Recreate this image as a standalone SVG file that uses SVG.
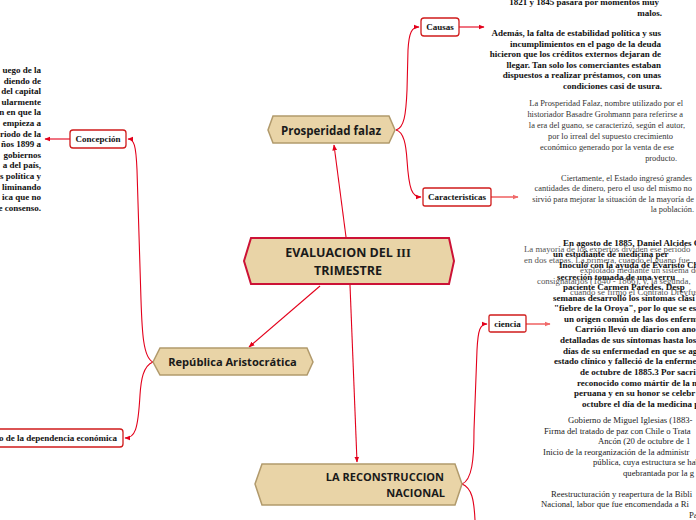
<svg xmlns="http://www.w3.org/2000/svg" width="696" height="520" viewBox="0 0 696 520">
<defs>
<marker id="ahr" viewBox="0 0 10 10" refX="9" refY="5" markerWidth="6" markerHeight="6" orient="auto" markerUnits="userSpaceOnUse">
<path d="M0,1 L10,5 L0,9 z" fill="#e3001b"/>
</marker>
<marker id="ahp" viewBox="0 0 10 10" refX="9" refY="5" markerWidth="6" markerHeight="6" orient="auto" markerUnits="userSpaceOnUse">
<path d="M0,1 L10,5 L0,9 z" fill="#f06a6a"/>
</marker>
</defs>
<style>
.hex{fill:#e9d4a7;stroke:#b19a6c;stroke-width:1.5}
.main{fill:#e9d4a7;stroke:#cc1236;stroke-width:2}
.ht{font-family:"Open Sans","Noto Sans",sans-serif;font-weight:bold;fill:#1a1a1a}
.box{fill:#fff;stroke:#d01b1b;stroke-width:1.3}
.bt{font-family:"Liberation Serif",serif;font-weight:bold;font-size:9px;fill:#111;text-anchor:middle}
.con{fill:none;stroke:#e3001b;stroke-width:1.1}
.pk{fill:none;stroke:#f06a6a;stroke-width:1.6}
.bold{font-family:"Liberation Serif",serif;font-weight:bold;font-size:9px;fill:#111}
.reg{font-family:"Liberation Serif",serif;font-size:8.4px;fill:#333}
.low{font-family:"Liberation Serif",serif;font-size:8.7px;fill:#222}
.grey{font-family:"Liberation Serif",serif;font-size:8.8px;fill:#555}
.end{text-anchor:end}
</style>

<g id="connectors">
<path class="con" d="M346,237 L334,145" marker-end="url(#ahr)"/>
<path class="con" d="M320,286 L249,347" marker-end="url(#ahr)"/>
<path class="con" d="M350,285 L357,462" marker-end="url(#ahr)"/>
<path class="con" d="M396,130 C404,128 406,115 407,90 L408,50 C409,32 412,27 419,27" marker-end="url(#ahr)"/>
<path class="con" d="M396,130 C404,132 406,145 407,160 C409,190 412,197 421,197" marker-end="url(#ahr)"/>
<path class="con" d="M153,362 C143,358 142,330 141,300 L137,170 C136,145 134,139 128,139" marker-end="url(#ahr)"/>
<path class="con" d="M153,362 C143,366 141,380 140,395 C138,430 135,438 125,438" marker-end="url(#ahr)"/>
<path class="con" d="M462,484 C472,480 474,460 474,430 L477,350 C478,330 480,324 487,324" marker-end="url(#ahr)"/>
<path class="con" d="M462,484 C472,488 474,500 475,520"/>
<path class="con" d="M459,27 L484,27" marker-end="url(#ahr)"/>
<path class="pk" d="M491,197 L518,197" marker-end="url(#ahp)"/>
<path class="con" d="M70,139 L45,139" marker-end="url(#ahr)"/>
<path class="pk" d="M526,324 L550,324" marker-end="url(#ahp)"/>
</g>

<g id="n-central">
<polygon class="main" points="244,261 251,238 449,238 454,261 449,284 251,284"/>
<text class="ht" x="348" y="257" font-size="12.5" text-anchor="middle">EVALUACION DEL <tspan font-family="Liberation Serif,serif">III</tspan></text>
<text class="ht" x="348" y="275" font-size="12.5" text-anchor="middle">TRIMESTRE</text>
</g>

<g id="n-prosperidad">
<polygon class="hex" points="268,130 273,116 389,116 395,130 389,143 273,143"/>
<text class="ht" x="331" y="135" font-size="11.5" text-anchor="middle">Prosperidad falaz</text>
</g>

<g id="n-republica">
<polygon class="hex" points="153,362 160,348 307,348 313,362 307,375 160,375"/>
<text class="ht" x="232.5" y="366" font-size="11.1" text-anchor="middle">República Aristocrática</text>
</g>

<g id="n-reconstruccion">
<polygon class="hex" points="255,484 262,464 455,464 462,484 455,505 262,505"/>
<text class="ht" x="444" y="481" font-size="11" text-anchor="end">LA RECONSTRUCCION</text>
<text class="ht" x="445" y="497" font-size="11" text-anchor="end">NACIONAL</text>
</g>

<g id="n-causas">
<rect class="box" x="421" y="18" width="38" height="18" rx="3" stroke="#e85a5a"/>
<text class="bt" x="440" y="30">Causas</text>
</g>

<g id="n-caracteristicas">
<rect class="box" x="423" y="188" width="68" height="18" rx="2" stroke="#e8101e"/>
<text class="bt" x="457" y="200">Caracteristicas</text>
</g>

<g id="n-concepcion">
<rect class="box" x="70" y="130" width="56" height="18" rx="3" stroke="#d83a3a"/>
<text class="bt" x="98" y="142">Concepción</text>
</g>

<g id="n-ciencia">
<rect class="box" x="489" y="315" width="37" height="17" rx="1.5" stroke="#c8001a"/>
<text class="bt" x="507.5" y="327">ciencia</text>
</g>

<g id="n-dependencia">
<rect class="box" x="-6" y="429" width="129" height="18" rx="3" stroke="#c8001a"/>
<text class="bt" x="117" y="441" style="text-anchor:end">o de la dependencia económica</text>
</g>

<g id="t-causas" class="bold end">
<text x="659" y="5">1821 y 1845 pasara por momentos muy</text>
<text x="662" y="15.5">malos.</text>
<text x="661" y="36">Además, la falta de estabilidad política y sus</text>
<text x="661" y="46.5">incumplimientos en el pago de la deuda</text>
<text x="661" y="57">hicieron que los créditos externos dejaran de</text>
<text x="661" y="67.5">llegar. Tan solo los comerciantes estaban</text>
<text x="661" y="78">dispuestos a realizar préstamos, con unas</text>
<text x="662" y="88.5">condiciones casi de usura.</text>
</g>

<g id="t-prosperidad" class="reg end">
<text x="683" y="105.5">La Prosperidad Falaz, nombre utilizado por el</text>
<text x="683" y="116.5">historiador Basadre Grohmann para referirse a</text>
<text x="685" y="127.5">la era del guano, se caracterizó, según el autor,</text>
<text x="673" y="138.5">por lo irreal del supuesto crecimiento</text>
<text x="674" y="149.5">económico generado por la venta de ese</text>
<text x="677" y="160.5">producto.</text>
<text x="692" y="180.5">Ciertamente, el Estado ingresó grandes</text>
<text x="692" y="191">cantidades de dinero, pero el uso del mismo no</text>
<text x="694" y="201.5">sirvió para mejorar la situación de la mayoría de</text>
<text x="694" y="212">la población.</text>
</g>

<g id="t-concepcion" class="bold end">
<text x="41" y="73">uego de la</text>
<text x="41" y="83.6">diendo de</text>
<text x="41" y="94.2">del capital</text>
<text x="41" y="104.8">ularmente</text>
<text x="41" y="115.4">n en que la</text>
<text x="41" y="126">empieza a</text>
<text x="41" y="136.6">riodo de la</text>
<text x="41" y="147.2">ños 1899 a</text>
<text x="41" y="157.8">gobiernos</text>
<text x="41" y="168.4">a del país,</text>
<text x="41" y="179">s política y</text>
<text x="41" y="189.6">liminando</text>
<text x="41" y="200.2">ica que no</text>
<text x="41" y="210.8">e consenso.</text>
</g>

<g id="t-guano" class="grey">
<text x="524" y="252">La mayoría de los expertos dividen ese período</text>
<text x="524" y="262.5">en dos etapas. La primera, cuando el guano fue</text>
<text x="580" y="273">explotado mediante un sistema de</text>
<text x="537" y="284">consignatarios (1840 - 1866), y, la segunda,</text>
<text x="570" y="294.5">cuando se firmó el Contrato Dreyfus.</text>
</g>

<g id="t-ciencia" class="bold">
<text x="563" y="246">En agosto de 1885, Daniel Alcides C</text>
<text x="553" y="257">un estudiante de medicina per</text>
<text x="559" y="268">Inoculó con la ayuda de Evaristo Ch</text>
<text x="557" y="280">secreción tomada de una verru</text>
<text x="563" y="290">paciente Carmen Paredes. Desp</text>
<text x="553" y="301">semanas desarrolló los síntomas clási</text>
<text x="554" y="311">"fiebre de la Oroya", por lo que se es</text>
<text x="564" y="322">un origen común de las dos enferm</text>
<text x="575" y="332">Carrión llevó un diario con ano</text>
<text x="560" y="343">detalladas de sus síntomas hasta los</text>
<text x="563" y="354">días de su enfermedad en que se ag</text>
<text x="554" y="364">estado clínico y falleció de la enferme</text>
<text x="580" y="375">de octubre de 1885.3 Por sacri</text>
<text x="577" y="386">reconocido como mártir de la m</text>
<text x="574" y="396">peruana y en su honor se celebr</text>
<text x="582" y="407">octubre el día de la medicina p</text>
</g>

<g id="t-reconstruccion" class="low">
<text x="568" y="423">Gobierno de Miguel Iglesias (1883-</text>
<text x="544" y="433.5">Firma del tratado de paz con Chile o Trata</text>
<text x="598" y="444">Ancón (20 de octubre de 1</text>
<text x="543" y="454.5">Inicio de la reorganización de la administr</text>
<text x="593" y="465">pública, cuya estructura se había</text>
<text x="623" y="475.5">quebrantada por la g</text>
<text x="551" y="496.5">Reestructuración y reapertura de la Bibli</text>
<text x="541" y="507">Nacional, labor que fue encomendada a Ri</text>
<text x="689" y="517.5">Pa</text>
</g>
</svg>
